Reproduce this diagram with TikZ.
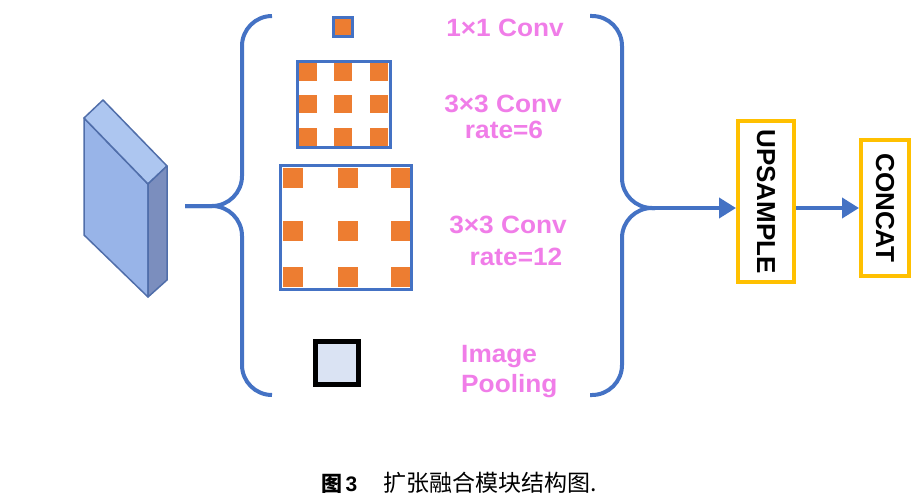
\documentclass[tikz,border=0pt]{standalone}
\usepackage{fontspec}
\setmainfont{Liberation Sans}
\newfontfamily\cjk{Noto Sans CJK SC}
\usetikzlibrary{arrows.meta}
\definecolor{bracec}{RGB}{68,114,196}
\definecolor{orangec}{RGB}{237,125,49}
\definecolor{pinkc}{RGB}{240,125,232}
\definecolor{yellowc}{RGB}{255,192,0}
\definecolor{poolfill}{RGB}{218,227,243}
\definecolor{frontc}{RGB}{152,180,232}
\definecolor{topc}{RGB}{173,198,240}
\definecolor{sidec}{RGB}{123,142,190}
\definecolor{edgec}{RGB}{80,110,170}
\tikzset{
  brace/.style={draw=bracec, line width=4pt, rounded corners=30pt},
  face/.style={draw=edgec, line width=1.5pt, line join=round},
  cell/.style={fill=orangec},
  gridbox/.style={draw=bracec, line width=3pt},
  lbl/.style={text=pinkc, font=\bfseries\fontsize{25}{29}\selectfont, inner sep=0pt},
  opbox/.style={draw=yellowc, line width=4pt, fill=white, rotate=-90, inner sep=0pt,
    font=\bfseries\fontsize{26}{30}\selectfont},
  flow/.style={draw=bracec, line width=4pt, -{Triangle[length=17pt,width=20pt]}}
}
\begin{document}
\begin{tikzpicture}[x=1pt,y=-1pt]
\useasboundingbox (0,0) rectangle (912,495);
% input feature block
\filldraw[face, fill=frontc] (84,118) -- (148,184) -- (148,297) -- (84,235) -- cycle;
\filldraw[face, fill=topc] (84,118) -- (103,100) -- (167,166) -- (148,184) -- cycle;
\filldraw[face, fill=sidec] (148,184) -- (167,166) -- (167,280) -- (148,297) -- cycle;
% left brace
\draw[brace] (272,16) -| (242,206) -- (185,206);
\draw[brace] (185,206) -| (242,395) -- (272,395);
% right brace
\draw[brace] (590,16) -| (622,208) -- (655,208);
\draw[brace] (590,395) -| (622,208) -- (655,208);
\coordinate (rtip) at (645,208);
% 1x1 conv
\fill[cell] (333.5,17.5) rectangle (352.5,36.5);
\draw[gridbox] (333.5,17.5) rectangle (352.5,36.5);
% 3x3 rate 6
\foreach \x in {299,334,370} \foreach \y in {63,95,128}
  \fill[cell] (\x,\y) rectangle ++(18,18);
\draw[gridbox] (297.5,61.5) rectangle (390.5,147.5);
% 3x3 rate 12
\foreach \x in {283,338,391} \foreach \y in {168,221,267}
  \fill[cell] (\x,\y) rectangle ++(20,20);
\draw[gridbox] (280.5,165.5) rectangle (411.5,289.5);
% image pooling
\filldraw[draw=black, line width=5pt, fill=poolfill] (315.5,341.5) rectangle (358.5,384.5);
% labels
\node[lbl, anchor=base] (l1) at (505,37) {\scalebox{1.05}[1]{1×1 Conv}};
\node[lbl, anchor=base] (l2a) at (503,112) {\scalebox{1.05}[1]{3×3 Conv}};
\node[lbl, anchor=base] (l2b) at (504,138) {\scalebox{1.05}[1]{rate=6}};
\node[lbl, anchor=base] (l3a) at (508,233) {\scalebox{1.05}[1]{3×3 Conv}};
\node[lbl, anchor=base] (l3b) at (516,265) {\scalebox{1.05}[1]{rate=12}};
\node[lbl, anchor=base west] (l4a) at (461,362) {\scalebox{1.05}[1]{Image}};
\node[lbl, anchor=base west] (l4b) at (461,392) {\scalebox{1.05}[1]{Pooling}};
% operations
\node[opbox, minimum width=161pt, minimum height=56pt] (up) at (766,201.5) {UPSAMPLE};
\node[opbox, minimum width=136pt, minimum height=48pt] (cc) at (885,208) {CONCAT};
\draw[flow] (rtip) -- (up.south |- rtip);
\draw[flow] (up.north |- rtip) -- (cc.south |- rtip);
% caption
\node[anchor=base west, inner sep=0pt, font=\fontsize{21}{24}\selectfont] (cap1) at (321,491) {{\cjk\bfseries 图}\,\textbf{3}};
\node[anchor=base west, inner sep=0pt, font=\fontsize{23}{26}\selectfont] (cap2) at (383,491) {\cjk 扩张融合模块结构图.};
\end{tikzpicture}
\end{document}
